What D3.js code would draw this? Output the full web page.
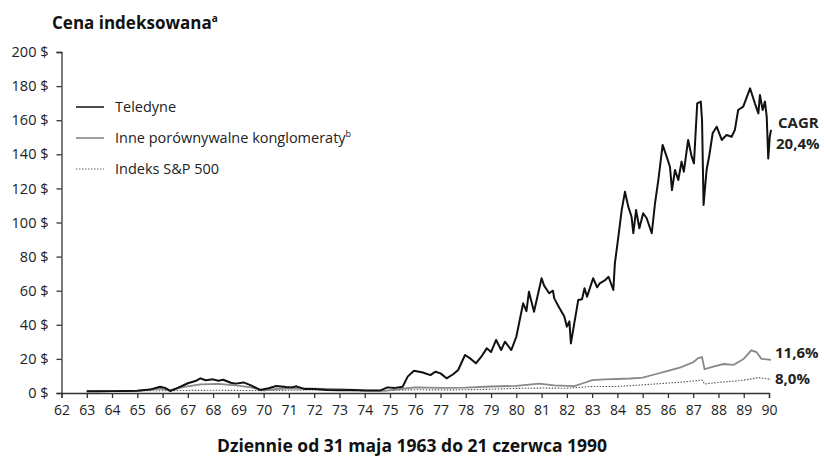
<!DOCTYPE html>
<html><head><meta charset="utf-8">
<script src="https://cdn.jsdelivr.net/npm/d3@7"></script>
<style>
body{margin:0;background:#fff;}
svg{font-family:"Open Sans",sans-serif;}
</style></head>
<body><svg id="c" width="824" height="458"></svg>
<script>
const yearTicks = d3.range(62, 91);
const valueTicks = [0,20,40,60,80,100,120,140,160,180,200];
const seriesNames = ["Teledyne", "Inne porównywalne konglomeraty", "Indeks S&P 500"];
const endLabels = ["20,4%", "11,6%", "8,0%"];

const teledyne = [
[63.0,1.0],[63.5,1.0],[64.0,1.1],[64.5,1.2],[65.0,1.3],[65.5,2.0],[65.9,3.7],[66.1,3.0],[66.3,1.2],[66.6,3.0],
[67.0,5.7],[67.3,7.0],[67.5,8.6],[67.7,7.5],[68.0,8.0],[68.2,7.2],[68.4,7.8],[68.7,6.0],[68.9,5.5],[69.2,6.2],
[69.5,4.5],[69.86,1.8],[70.2,2.8],[70.5,4.1],[70.9,3.5],[71.1,3.3],[71.3,3.9],[71.6,2.4],[72.0,2.4],[72.5,1.8],
[73.0,1.6],[73.5,1.8],[74.0,1.5],[74.6,1.4],[74.9,3.3],[75.2,3.0],[75.5,3.7],[75.7,9.6],[75.95,13.0],[76.3,12.0],
[76.6,10.5],[76.8,12.5],[77.0,11.5],[77.24,8.6],[77.5,11],[77.7,13.5],[77.97,22.3],[78.2,20],[78.4,17.4],[78.6,21],
[78.83,26.2],[79.0,24],[79.2,31.1],[79.4,25.2],[79.55,30.1],[79.8,25.2],[80.0,33],[80.27,52.6],[80.4,48],[80.5,59.4],
[80.7,47.7],[81.0,67.3],[81.1,63],[81.3,58.5],[81.45,60],[81.5,55.5],[81.7,50],[81.9,44.8],[82.0,38.9],[82.1,42],
[82.16,29.1],[82.25,37],[82.45,54.5],[82.6,55],[82.7,61.4],[82.8,56.5],[83.04,67.3],[83.2,62],[83.3,64.3],[83.5,66],
[83.65,68.2],[83.84,60.4],[83.9,76],[84.03,90.7],[84.17,107.3],[84.3,118],[84.43,109.3],[84.56,103.4],[84.63,93.7],[84.74,107.3],
[84.87,96.6],[85.02,105.4],[85.16,102.5],[85.36,93.7],[85.49,111.3],[85.62,124.9],[85.79,145.5],[85.95,138.6],[86.08,132.7],[86.16,119],
[86.28,130.8],[86.41,124.9],[86.54,135.7],[86.63,129.8],[86.8,148.4],[86.94,138.6],[87.03,134.7],[87.16,169.9],[87.3,170.9],[87.35,160.1],
[87.41,110.3],[87.53,130.8],[87.64,139.6],[87.77,152.3],[87.93,156.2],[88.13,148.4],[88.32,151.3],[88.52,150.3],[88.65,154.3],[88.78,166],
[88.98,168],[89.25,178.7],[89.44,169.9],[89.58,164],[89.64,174.8],[89.75,166],[89.84,170.9],[89.91,162],[89.97,137.6],[90.03,150.3],
[90.08,154.3]
];
const others = [
[63.0,1.0],[64.0,1.1],[65.0,1.3],[65.9,2.6],[66.3,1.5],[66.8,3.5],[67.5,5.0],[68.2,5.3],[68.9,4.5],[69.5,3.3],
[70.0,1.6],[70.6,2.5],[71.2,2.8],[72.0,2.5],[73.0,2.2],[74.0,1.5],[74.8,1.3],[75.5,2.5],[76.0,3.3],[77.0,3.0],
[78.0,3.2],[79.0,3.8],[80.0,4.2],[80.9,5.5],[81.5,4.5],[82.3,4.0],[82.7,6.0],[83.0,7.5],[83.5,8.0],[84.0,8.2],
[84.5,8.5],[85.0,9.0],[85.5,11],[86.0,13],[86.5,15],[87.0,18],[87.2,20.5],[87.35,21],[87.45,14],[87.8,15.5],
[88.2,17],[88.6,16.5],[89.0,20],[89.3,25],[89.5,24],[89.7,20],[90.08,19.4]
];
const sp500 = [
[63.0,1.0],[64.0,1.2],[65.0,1.4],[66.0,1.3],[67.0,1.5],[68.0,1.6],[69.0,1.5],[70.0,1.4],[71.0,1.6],[72.0,1.8],
[73.0,1.7],[74.0,1.2],[75.0,1.5],[76.0,1.9],[77.0,1.8],[78.0,1.9],[79.0,2.2],[80.0,2.7],[81.0,2.9],[82.0,2.8],
[83.0,3.8],[84.0,3.8],[85.0,4.8],[86.0,5.8],[87.0,7.0],[87.35,7.6],[87.45,5.3],[88.0,6.2],[89.0,7.5],[89.6,9.0],[90.08,8.0]
];

const svg = d3.select("#c");
const x = d3.scaleLinear().domain([62, 90]).range([61.5, 769]);
const y = d3.scaleLinear().domain([0, 200]).range([393, 52]);

// title
const t = svg.append("text").attr("x", 52).attr("y", 29).attr("font-size", 17).attr("font-weight", 700).attr("fill", "#111").text("Cena indeksowana");
t.append("tspan").attr("font-size", 10).attr("dy", -7).text("a");

// y axis
const ya = svg.append("g").attr("transform", "translate(61.5,0)")
  .call(d3.axisLeft(y).tickValues(valueTicks).tickSize(5).tickPadding(8).tickFormat(d => d + " $"));
ya.select(".domain").attr("stroke", "#333").attr("stroke-width", 1.3);
ya.selectAll(".tick line").attr("stroke", "#333").attr("stroke-width", 1.3);
ya.selectAll("text").attr("font-size", 14.5).attr("fill", "#222").attr("font-family", "Open Sans");

// x axis
const xa = svg.append("g").attr("transform", "translate(0,393)")
  .call(d3.axisBottom(x).tickValues(yearTicks).tickSize(5).tickPadding(7).tickFormat(d => String(d)));
xa.select(".domain").attr("stroke", "#333").attr("stroke-width", 1.3);
xa.selectAll(".tick line").attr("stroke", "#333").attr("stroke-width", 1.3);
xa.selectAll("text").attr("font-size", 14).attr("fill", "#222").attr("font-family", "Open Sans");

svg.append("text").attr("x", 412).attr("y", 452).attr("text-anchor", "middle").attr("font-size", 17.5).attr("font-weight", 700).attr("fill", "#111")
  .text("Dziennie od 31 maja 1963 do 21 czerwca 1990");

const line = d3.line().x(d => x(d[0])).y(d => y(d[1]));
svg.append("path").datum(sp500).attr("d", line).attr("fill", "none").attr("stroke", "#555").attr("stroke-width", 1.1).attr("stroke-dasharray", "1.5,1.5");
svg.append("path").datum(others).attr("d", line).attr("fill", "none").attr("stroke", "#888").attr("stroke-width", 1.8);
svg.append("path").datum(teledyne).attr("d", line).attr("fill", "none").attr("stroke", "#111").attr("stroke-width", 2).attr("stroke-linejoin", "round");

// legend
const styles = [
  {stroke:"#111", w:1.5, dash:null},
  {stroke:"#888", w:1.6, dash:null},
  {stroke:"#666", w:1, dash:"1.5,1.5"}
];
const sups = ["", "b", ""];
seriesNames.forEach((n, i) => {
  const cy = 107 + i * 31;
  svg.append("line").attr("x1", 76).attr("x2", 104).attr("y1", cy).attr("y2", cy)
    .attr("stroke", styles[i].stroke).attr("stroke-width", styles[i].w).attr("stroke-dasharray", styles[i].dash);
  const tx = svg.append("text").attr("x", 115).attr("y", cy + 5).attr("font-size", 14.5).attr("fill", "#222").text(n);
  if (sups[i]) tx.append("tspan").attr("font-size", 9).attr("dy", -6).text(sups[i]);
});

// end labels
svg.append("text").attr("x", 778).attr("y", 128).attr("font-size", 15).attr("font-weight", 700).attr("fill", "#222").text("CAGR");
svg.append("text").attr("x", 776).attr("y", 149).attr("font-size", 15).attr("font-weight", 700).attr("fill", "#222").text(endLabels[0]);
svg.append("text").attr("x", 775).attr("y", 358).attr("font-size", 15).attr("font-weight", 700).attr("fill", "#222").text(endLabels[1]);
svg.append("text").attr("x", 775).attr("y", 384).attr("font-size", 15).attr("font-weight", 700).attr("fill", "#222").text(endLabels[2]);
</script></body></html>
